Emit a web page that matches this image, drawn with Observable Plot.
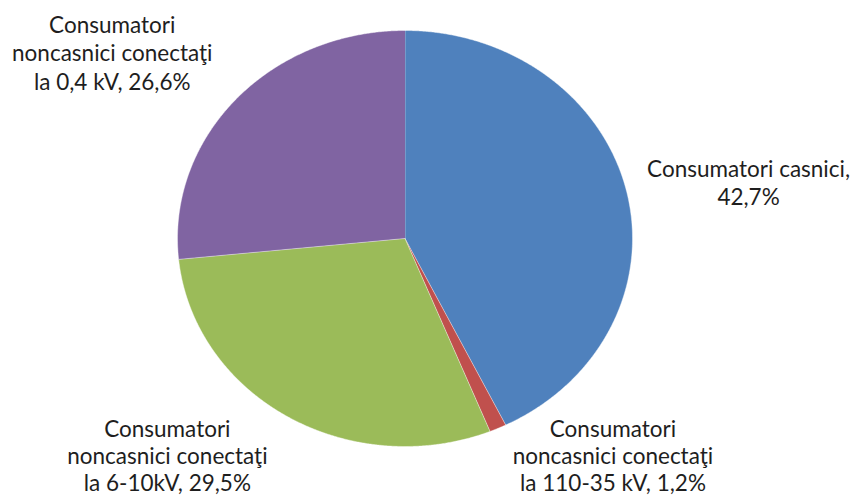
<!DOCTYPE html>
<html><head><meta charset="utf-8">
<script src="https://cdn.jsdelivr.net/npm/d3@7"></script>
<script src="https://cdn.jsdelivr.net/npm/@observablehq/plot@0.6"></script>
<style>body{margin:0;background:#fff}</style>
</head><body><div id="chart"></div>
<script>
const categories = [
  "Consumatori casnici",
  "Consumatori noncasnici conectaţi la 110-35 kV",
  "Consumatori noncasnici conectaţi la 6-10kV",
  "Consumatori noncasnici conectaţi la 0,4 kV"
];
const shares = [42.7, 1.2, 29.5, 26.6];
const labelTexts = [
  "Consumatori casnici,\n42,7%",
  "Consumatori\nnoncasnici conectaţi\nla 110-35 kV, 1,2%",
  "Consumatori\nnoncasnici conectaţi\nla 6-10kV, 29,5%",
  "Consumatori\nnoncasnici conectaţi\nla 0,4 kV, 26,6%"
];
const colors = ["#4F81BD", "#C0504D", "#9BBB59", "#8064A2"];

// label offsets (pixels) from the rim point at each slice's mid-angle
const labelOffsets = [[122, -9], [115, 27], [-120, 39], [-124, -47]];
const labelLineHeights = [1.25, 1.2, 1.2, 1.27];

const arcs = d3.pie().sort(null).value(d => d)(shares);
const slicePts = [];
const mids = [];
arcs.forEach((p, i) => {
  slicePts.push({cat: categories[i], x: 0, y: 0});
  const n = Math.max(2, Math.ceil((p.endAngle - p.startAngle) / 0.005));
  for (let k = 0; k <= n; k++) {
    const a = p.startAngle + (p.endAngle - p.startAngle) * k / n;
    slicePts.push({cat: categories[i], x: Math.sin(a), y: Math.cos(a)});
  }
  const m = (p.startAngle + p.endAngle) / 2;
  mids.push({cat: categories[i], x: Math.sin(m), y: Math.cos(m), text: labelTexts[i]});
});

const textMarks = mids.map((d, i) => Plot.text([d], {
  x: "x", y: "y", text: "text",
  dx: labelOffsets[i][0], dy: labelOffsets[i][1],
  textAnchor: "middle", lineAnchor: "middle",
  fontSize: 22.5, lineHeight: labelLineHeights[i], fill: "#1e1e1e",
  fontFamily: "Lato"
}));

const chart = Plot.plot({
  width: 858, height: 495, margin: 0,
  style: {background: "#fff", fontFamily: "Lato"},
  x: {domain: [-1, 1], range: [177, 632], axis: null},
  y: {domain: [-1, 1], range: [446, 30], axis: null},
  color: {domain: categories, range: colors},
  marks: [
    Plot.line(slicePts, {x: "x", y: "y", z: "cat", fill: "cat", stroke: "#ffffff", strokeWidth: 0.6, strokeOpacity: 0.7, curve: "linear"}),
    ...textMarks
  ]
});
document.getElementById("chart").appendChild(chart);
</script>
</body></html>
